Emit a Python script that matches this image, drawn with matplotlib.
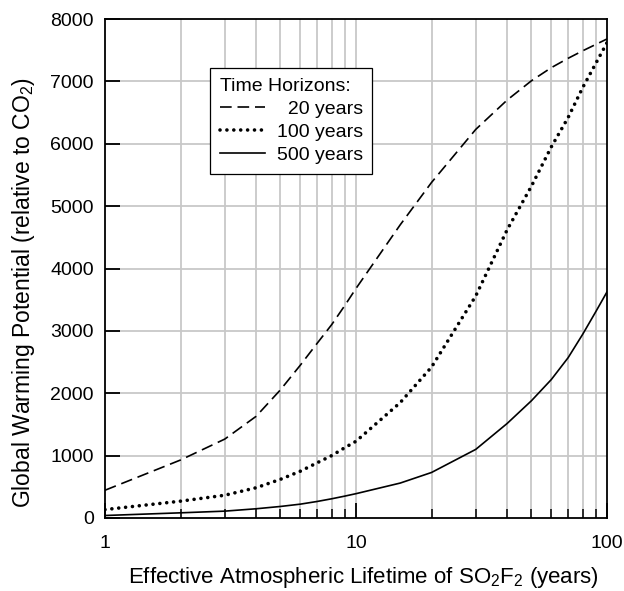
import matplotlib
matplotlib.use("Agg")
import matplotlib.pyplot as plt
from matplotlib.ticker import FixedLocator, NullFormatter, FixedFormatter

plt.rcParams['font.family'] = ['Liberation Sans', 'DejaVu Sans']
plt.rcParams['mathtext.fontset'] = 'custom'
plt.rcParams['mathtext.rm'] = 'Liberation Sans'
plt.rcParams['mathtext.it'] = 'Liberation Sans:italic'
plt.rcParams['mathtext.bf'] = 'Liberation Sans:bold'
plt.rcParams['mathtext.default'] = 'rm'

lifetime = [1, 2, 3, 4, 5, 6, 7, 8, 9, 10, 15, 20, 30, 40, 50, 60, 70, 80, 90, 100]
gwp_20 = [445, 930, 1265, 1630, 2055, 2450, 2800, 3100, 3400, 3680, 4700, 5380, 6230, 6700, 7010, 7220, 7370, 7490, 7590, 7680]
gwp_100 = [135, 270, 365, 485, 620, 750, 885, 1000, 1125, 1230, 1850, 2420, 3560, 4620, 5320, 5950, 6420, 6900, 7280, 7620]
gwp_500 = [40, 83, 110, 148, 185, 222, 265, 308, 350, 390, 560, 730, 1100, 1515, 1880, 2220, 2570, 2945, 3300, 3625]

labels = ['\u200720 years', '100 years', '500 years']
yticks = [0, 1000, 2000, 3000, 4000, 5000, 6000, 7000, 8000]
xmajor = [1, 10, 100]
xminor = [2, 3, 4, 5, 6, 7, 8, 9, 20, 30, 40, 50, 60, 70, 80, 90]

fig = plt.figure(figsize=(6.24, 5.91), dpi=100)
ax = fig.add_axes([105/624, 73/591, 502/624, 499/591])

ax.set_xscale('log')
ax.set_xlim(1, 100)
ax.set_ylim(0, 8000)

grid_c = '#c8c8c8'
for v in xminor + [10]:
    ax.axvline(v, color=grid_c, lw=1.3, zorder=0)
for v in yticks[1:-1]:
    ax.axhline(v, color=grid_c, lw=1.3, zorder=0)

ax.plot(lifetime, gwp_20, color='black', lw=1.2, linestyle=(0, (7, 3.5)), label=labels[0])
ax.plot(lifetime, gwp_100, color='black', lw=2.6, linestyle=(0, (0.01, 1.9)),
        dash_capstyle='round', label=labels[1])
ax.plot(lifetime, gwp_500, color='black', lw=1.2, linestyle='-', label=labels[2])

ax.xaxis.set_major_locator(FixedLocator(xmajor))
ax.xaxis.set_major_formatter(FixedFormatter([str(v) for v in xmajor]))
ax.xaxis.set_minor_locator(FixedLocator(xminor))
ax.xaxis.set_minor_formatter(NullFormatter())
ax.set_yticks(yticks)
ax.set_yticklabels([str(v) for v in yticks])

ax.tick_params(axis='both', which='major', direction='in', length=11, width=1.3,
               labelsize=14, pad=8)
ax.tick_params(axis='x', which='minor', direction='in', length=6.5, width=1.1)
ax.tick_params(axis='x', which='major', pad=12)
ax.tick_params(axis='y', which='minor', left=False)

for s in ax.spines.values():
    s.set_linewidth(1.3)

ax.set_xlabel('Effective Atmospheric Lifetime of SO$_2$F$_2$ (years)', fontsize=16)
ax.xaxis.set_label_coords((363.5 - 105) / 502, -(578 - 518) / 499)
ax.xaxis.label.set_va('center')
ax.set_ylabel('Global Warming Potential (relative to CO$_2$)', fontsize=16.5)
ax.yaxis.set_label_coords(-(105 - 24) / 502, (518 - 292) / 499)
ax.yaxis.label.set_va('center')

leg = ax.legend(title='Time Horizons:', loc='upper left', bbox_to_anchor=(105/502, (518-68)/499),
                frameon=True, fancybox=False, edgecolor='black', framealpha=1,
                fontsize=14, title_fontsize=14, handlelength=2.35, alignment='left',
                borderpad=0.5, labelspacing=0.28, handletextpad=0.57, borderaxespad=0)
leg.get_frame().set_linewidth(0.9)

fig.savefig('out.png', dpi=100)
